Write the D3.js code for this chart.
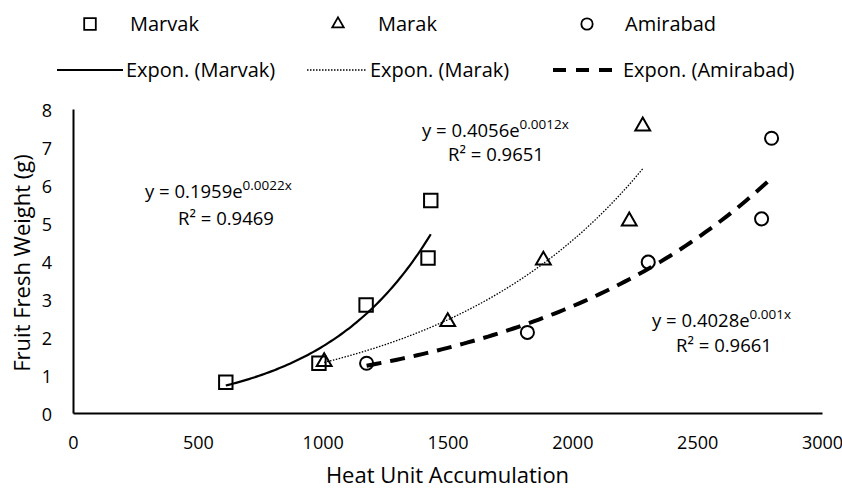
<!DOCTYPE html>
<html>
<head>
<meta charset="utf-8">
<script src="https://cdn.jsdelivr.net/npm/d3@7"></script>
<style>
  body { margin: 0; background: #fff; }
  svg text { font-family: "Open Sans", "Noto Sans", sans-serif; fill: #000; }
</style>
</head>
<body>
<div id="chart"></div>
<script>
// ─── DATA ────────────────────────────────────────────────────────
const seriesNames = ['Marvak', 'Marak', 'Amirabad']
const marvakX = [612, 985, 1174, 1422, 1433]
const marvakY = [0.81, 1.31, 2.84, 4.08, 5.59]
const marakX = [1006, 1501, 1884, 2228, 2282]
const marakY = [1.35, 2.40, 4.02, 5.05, 7.55]
const amirabadX = [1176, 1820, 2304, 2758, 2798]
const amirabadY = [1.31, 2.12, 3.97, 5.11, 7.23]
const equations = [
  { a: 'y = 0.1959e', b: '0.0022x', r: 'R² = 0.9469' },
  { a: 'y = 0.4056e', b: '0.0012x', r: 'R² = 0.9651' },
  { a: 'y = 0.4028e', b: '0.001x', r: 'R² = 0.9661' }
]
const xTicks = [0, 500, 1000, 1500, 2000, 2500, 3000]
const yTicks = [0, 1, 2, 3, 4, 5, 6, 7, 8]

const WIDTH = 842
const HEIGHT = 490
const PLOT = { LEFT: 73, RIGHT: 822, TOP: 109, BOTTOM: 413 }

const svg = d3.select('#chart').append('svg')
  .attr('width', WIDTH)
  .attr('height', HEIGHT)

// ─── SCALES ──────────────────────────────────────────────────────
const x = d3.scaleLinear().domain([0, 3000]).range([PLOT.LEFT, PLOT.RIGHT])
const y = d3.scaleLinear().domain([0, 8]).range([PLOT.BOTTOM, PLOT.TOP])

// ─── AXES ────────────────────────────────────────────────────────
const xAxis = svg.append('g')
  .attr('transform', `translate(0, ${PLOT.BOTTOM})`)
  .call(d3.axisBottom(x).tickValues(xTicks).tickSize(0).tickPadding(23).tickFormat(d3.format('d')))
const yAxis = svg.append('g')
  .attr('transform', `translate(${PLOT.LEFT}, 0)`)
  .call(d3.axisLeft(y).tickValues(yTicks).tickSize(0).tickPadding(21).tickFormat(d3.format('d')))
;[xAxis, yAxis].forEach(g => {
  g.select('.domain').attr('stroke', '#000').attr('stroke-width', 2)
  g.selectAll('text').attr('font-size', 18).attr('font-family', null)
})
yAxis.selectAll('text').attr('dy', '0.42em')

svg.append('text')
  .attr('x', (PLOT.LEFT + PLOT.RIGHT) / 2)
  .attr('y', 483)
  .attr('text-anchor', 'middle')
  .attr('font-size', 22)
  .text('Heat Unit Accumulation')

svg.append('text')
  .attr('transform', `translate(30, ${(PLOT.TOP + PLOT.BOTTOM) / 2 + 2}) rotate(-90)`)
  .attr('text-anchor', 'middle')
  .attr('font-size', 22)
  .text('Fruit Fresh Weight (g)')

// ─── SERIES ──────────────────────────────────────────────────────
const series = [
  { name: seriesNames[0], xs: marvakX, ys: marvakY, symbol: d3.symbolSquare, size: 180, dash: null, width: 2.2 },
  { name: seriesNames[1], xs: marakX, ys: marakY, symbol: d3.symbolTriangle, size: 95, dash: '1.5,1.5', width: 1.3 },
  { name: seriesNames[2], xs: amirabadX, ys: amirabadY, symbol: d3.symbolCircle, size: 135, dash: '15,9', width: 4 }
]

// exponential trend fitted on ln(y), like the spreadsheet trendline
function expFit(xs, ys) {
  const ly = ys.map(Math.log)
  const mx = d3.mean(xs), my = d3.mean(ly)
  const b = d3.sum(xs, (v, i) => (v - mx) * (ly[i] - my)) / d3.sum(xs, v => (v - mx) ** 2)
  const a = Math.exp(my - b * mx)
  return v => a * Math.exp(b * v)
}

const line = d3.line().x(d => x(d[0])).y(d => y(d[1]))

series.forEach(s => {
  const f = expFit(s.xs, s.ys)
  const [lo, hi] = d3.extent(s.xs)
  const pts = d3.range(0, 81).map(i => lo + (hi - lo) * i / 80).map(v => [v, f(v)])
  svg.append('path')
    .attr('d', line(pts))
    .attr('fill', 'none')
    .attr('stroke', '#000')
    .attr('stroke-width', s.width)
    .attr('stroke-dasharray', s.dash)
})

series.forEach(s => {
  svg.append('g').selectAll('path')
    .data(s.xs.map((v, i) => [v, s.ys[i]]))
    .join('path')
    .attr('transform', d => `translate(${x(d[0])}, ${y(d[1])})`)
    .attr('d', d3.symbol(s.symbol, s.size))
    .attr('fill', 'none')
    .attr('stroke', '#000')
    .attr('stroke-width', 2)
})

// ─── EQUATION LABELS ─────────────────────────────────────────────
const eqPos = [[145, 198, 226, 225], [422, 137, 496, 161], [652, 327, 724, 352]]
equations.forEach((e, i) => {
  const [ex, ey, rx, ry] = eqPos[i]
  const t = svg.append('text').attr('x', ex).attr('y', ey).attr('font-size', 18.5)
  t.append('tspan').text(e.a)
  t.append('tspan').attr('dy', -8).attr('font-size', 13.5).text(e.b)
  svg.append('text').attr('x', rx).attr('y', ry).attr('text-anchor', 'middle')
    .attr('font-size', 18.5).text(e.r)
})

// ─── LEGEND ──────────────────────────────────────────────────────
const markerX = [90, 338, 587]
const textX = [130, 378, 625]
const lineX = [[57, 123], [307, 367], [553, 620]]
series.forEach((s, i) => {
  svg.append('path')
    .attr('transform', `translate(${markerX[i]}, 24)`)
    .attr('d', d3.symbol(s.symbol, s.size * (i === 1 ? 0.6 : 0.75)))
    .attr('fill', 'none')
    .attr('stroke', '#000')
    .attr('stroke-width', 1.8)
  svg.append('text').attr('x', textX[i]).attr('y', 31).attr('font-size', 20).text(s.name)

  svg.append('line')
    .attr('x1', lineX[i][0]).attr('x2', lineX[i][1])
    .attr('y1', 70).attr('y2', 70)
    .attr('stroke', '#000')
    .attr('stroke-width', s.width)
    .attr('stroke-dasharray', s.dash ? (i === 2 ? '13,10' : s.dash) : null)
  svg.append('text').attr('x', lineX[i][1] + 3).attr('y', 77).attr('font-size', 20)
    .text(`Expon. (${s.name})`)
})
</script>
</body>
</html>
